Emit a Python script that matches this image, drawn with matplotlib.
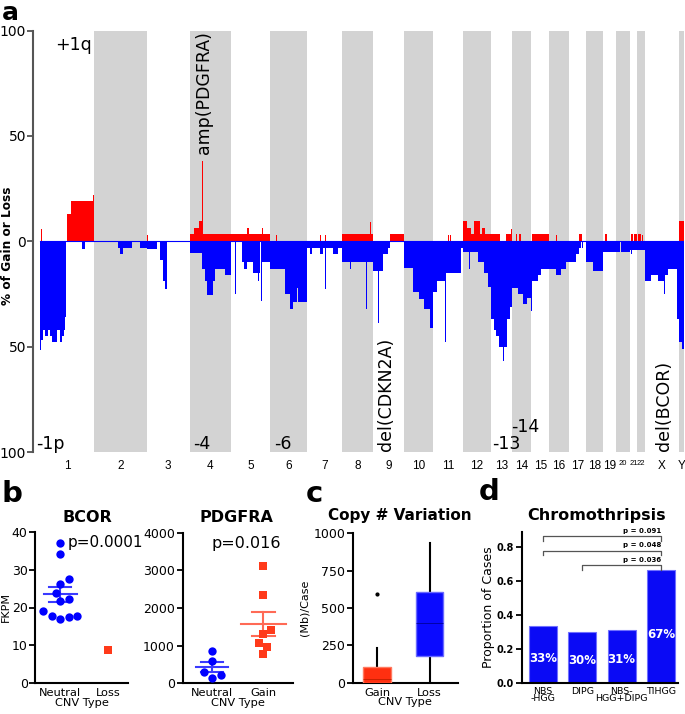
import numpy as np
import matplotlib
matplotlib.use('Agg')
import matplotlib.pyplot as plt

plt.rcParams['font.family'] = ['DejaVu Sans']

# ---------------- data: panel a ----------------
CHROMS = ['1', '2', '3', '4', '5', '6', '7', '8', '9', '10', '11', '12', '13', '14',
          '15', '16', '17', '18', '19', '20', '21', '22', 'X', 'Y']
CHROM_LEN_MB = [249, 243, 198, 191, 181, 171, 159, 146, 141, 135, 135, 133, 96, 88,
                82, 90, 81, 78, 59, 63, 35, 36, 155, 25]

# (chromosome, start Mb, end Mb, % of cases with gain)
GAIN_SEGMENTS = [
    ('1', 5, 8, 6), ('1', 60, 62, 5), ('1', 100, 102, 5), ('1', 125, 143, 12.7),
    ('1', 143, 245, 19), ('1', 245, 249, 22),
    ('2', 160, 162, 4),
    ('3', 0, 8, 3),
    ('4', 3, 21, 3.3), ('4', 21, 44, 6.3), ('4', 44, 57, 9.5), ('4', 57, 60, 38),
    ('4', 60, 191, 3.3),
    ('5', 0, 181, 3.3), ('5', 75, 85, 6.3), ('5', 145, 147, 6.3),
    ('6', 27, 29, 3),
    ('7', 60, 62, 3), ('7', 83, 85, 3), ('7', 114, 116, 3), ('7', 121, 123, 3), ('7', 145, 147, 3),
    ('8', 0, 146, 3.3), ('8', 130, 133, 9), ('8', 138, 141, 6),
    ('9', 16, 18, 3), ('9', 74, 141, 3.3),
    ('11', 69, 71, 3), ('11', 78, 80, 3),
    ('12', 0, 19, 9.5), ('12', 19, 37, 6.3), ('12', 37, 52, 3.3), ('12', 52, 79, 9.5),
    ('12', 61, 64, 16), ('12', 79, 91, 3.3), ('12', 91, 102, 6.3), ('12', 102, 133, 3.3),
    ('13', 0, 38, 3.3), ('13', 65, 96, 3.3), ('13', 92, 94, 6),
    ('14', 16, 24, 3.3), ('14', 30, 42, 3.3),
    ('15', 2, 82, 3.3),
    ('16', 34, 36, 3),
    ('17', 29, 31, 3), ('17', 48, 63, 3.3),
    ('19', 8, 17, 3.3),
    ('21', 6, 18, 3.3), ('21', 22, 32, 3.3),
    ('22', 2, 17, 3.3), ('22', 24, 26, 3),
    ('Y', 0, 25, 9.6),
]

# (chromosome, start Mb, end Mb, % of cases with loss)
LOSS_SEGMENTS = [
    ('1', 0, 5, 51.5), ('1', 5, 14, 47), ('1', 14, 23, 42), ('1', 23, 37, 45),
    ('1', 37, 46, 42), ('1', 46, 55, 45), ('1', 55, 78, 48), ('1', 78, 92, 42),
    ('1', 92, 102, 48), ('1', 102, 111, 45), ('1', 111, 115, 42), ('1', 115, 122, 36),
    ('1', 192, 206, 3.5),
    ('2', 0, 2, 3), ('2', 111, 176, 3.3), ('2', 120, 134, 6), ('2', 213, 243, 3.3),
    ('3', 2, 48, 3.5), ('3', 62, 76, 9), ('3', 76, 86, 19), ('3', 86, 92, 22.6),
    ('3', 92, 95, 9), ('3', 117, 119, 13), ('3', 163, 165, 6), ('3', 172, 174, 6),
    ('4', 3, 58, 5.6), ('4', 9, 11, 12.6), ('4', 58, 72, 13), ('4', 72, 81, 19),
    ('4', 81, 109, 25.5), ('4', 109, 118, 19), ('4', 118, 164, 13), ('4', 164, 191, 16),
    ('5', 18, 21, 25), ('5', 52, 103, 10), ('5', 60, 75, 13), ('5', 103, 135, 15),
    ('5', 125, 127, 19), ('5', 139, 141, 28.5), ('5', 145, 181, 10),
    ('6', 0, 69, 13), ('6', 69, 92, 25), ('6', 92, 106, 32), ('6', 106, 125, 29),
    ('6', 125, 128, 22), ('6', 128, 150, 29), ('6', 150, 153, 22), ('6', 153, 171, 29),
    ('7', 0, 14, 3), ('7', 14, 23, 6), ('7', 23, 60, 3), ('7', 60, 70, 6),
    ('7', 82, 84, 22.6), ('7', 70, 120, 3), ('7', 120, 143, 6), ('7', 143, 159, 3),
    ('8', 0, 100, 10), ('8', 38, 41, 13), ('8', 100, 112, 10), ('8', 112, 114, 32),
    ('8', 114, 146, 10),
    ('9', 0, 46, 14), ('9', 21, 24, 38.7), ('9', 46, 69, 6), ('9', 69, 78, 3),
    ('10', 2, 43, 12.7), ('10', 43, 67, 24), ('10', 67, 90, 27.5), ('10', 90, 122, 32),
    ('10', 122, 135, 41),
    ('11', 0, 19, 24), ('11', 19, 56, 19), ('11', 55, 57, 48), ('11', 57, 126, 15),
    ('11', 126, 135, 3),
    ('12', 0, 70, 5), ('12', 10, 12, 10), ('12', 30, 32, 13), ('12', 70, 97, 10),
    ('12', 97, 115, 15), ('12', 115, 130, 21.5), ('12', 130, 133, 28),
    ('13', 0, 13, 37), ('13', 13, 19, 42), ('13', 19, 33, 45), ('13', 33, 52, 50),
    ('13', 52, 54, 64), ('13', 54, 60, 57), ('13', 60, 70, 50), ('13', 70, 74, 57),
    ('13', 74, 85, 37), ('13', 85, 96, 31),
    ('14', 0, 25, 22), ('14', 25, 48, 25), ('14', 48, 70, 30), ('14', 70, 85, 27),
    ('14', 85, 88, 19),
    ('15', 0, 3, 33), ('15', 3, 29, 19), ('15', 29, 43, 16), ('15', 43, 82, 13),
    ('16', 0, 30, 13), ('16', 30, 54, 16), ('16', 54, 80, 13), ('16', 80, 90, 10),
    ('17', 0, 32, 10), ('17', 32, 47, 6), ('17', 47, 55, 3), ('17', 62, 66, 3),
    ('18', 0, 30, 10), ('18', 30, 78, 14),
    ('19', 0, 59, 5),
    ('20', 0, 20, 5), ('20', 25, 63, 5),
    ('21', 0, 35, 4), ('21', 8, 10, 6),
    ('22', 0, 36, 4),
    ('X', 0, 28, 19), ('X', 28, 58, 16), ('X', 58, 88, 19), ('X', 88, 92, 25),
    ('X', 92, 106, 16), ('X', 106, 150, 13), ('X', 150, 155, 37),
    ('Y', 0, 15, 48), ('Y', 15, 25, 51),
]

# (text, chromosome, position Mb, y %, rotation, ha, va)
ANNOTATIONS = [
    ('+1q', '1', 69, 97.5, 0, 'left', 'top'),
    ('-1p', '1', -18, -98.5, 0, 'left', 'baseline'),
    ('-4', '4', 17, -98.5, 0, 'left', 'baseline'),
    ('-6', '6', 19, -98.5, 0, 'left', 'baseline'),
    ('-13', '13', 2, -98.5, 0, 'left', 'baseline'),
    ('-14', '14', -7, -90.5, 0, 'left', 'baseline'),
    ('amp(PDGFRA)', '4', 65, 41.5, 90, 'center', 'bottom'),
    ('del(CDKN2A)', '9', 56, -99.5, 90, 'center', 'bottom'),
    ('del(BCOR)', 'X', 86, -99.5, 90, 'center', 'bottom'),
]

# ---------------- data: panel b ----------------
BCOR_NEUTRAL = [36.9, 34.1, 26.1, 27.4, 23.7, 21.8, 22.2, 19.0, 16.9, 17.8, 17.6, 17.8]
BCOR_LOSS = [8.8]
PDGFRA_NEUTRAL = [871, 596, 306, 219, 132]
PDGFRA_GAIN = [3123, 2345, 1416, 1309, 1062, 960, 778]

# ---------------- data: panel c ----------------
CNV_TYPES = ['Gain', 'Loss']
BOX_WHISLO = [0, 0]
BOX_Q1 = [0, 181]
BOX_MEDIAN = [25, 402]
BOX_Q3 = [103, 609]
BOX_WHISHI = [230, 937]
BOX_FLIERS = [[592], []]

# ---------------- data: panel d ----------------
CHROMO_GROUPS = ['NBS\n-HGG', 'DIPG', 'NBS-\nHGG+DIPG', 'TIHGG']
CHROMO_PROP = [0.332, 0.297, 0.311, 0.663]
CHROMO_LABELS = ['33%', '30%', '31%', '67%']
CHROMO_TESTS = [(0, 3, 'p = 0.091'), (0, 3, 'p = 0.048'), (1, 3, 'p = 0.036')]

RED = '#ff0000'
BLUE = '#0000ff'

W, H = 685, 714
fig = plt.figure(figsize=(W / 100, H / 100), dpi=100)


def rect(x0, y0, x1, y1):
    """pixel box (left, top, right, bottom) -> figure fraction"""
    return [x0 / W, 1 - y1 / H, (x1 - x0) / W, (y1 - y0) / H]


# ================= panel a =================
offsets = np.concatenate([[0], np.cumsum(CHROM_LEN_MB)[:-1]])
off = dict(zip(CHROMS, offsets))
total = float(np.sum(CHROM_LEN_MB))

axa = fig.add_axes(rect(33, 30.5, 684, 452))
for i, c in enumerate(CHROMS):
    if i % 2 == 1:
        axa.axvspan(off[c], off[c] + CHROM_LEN_MB[i], color='#d3d3d3', lw=0, zorder=0)

g_x = [off[c] + s for c, s, e, v in GAIN_SEGMENTS]
g_w = [e - s for c, s, e, v in GAIN_SEGMENTS]
g_h = [v for c, s, e, v in GAIN_SEGMENTS]
axa.bar(g_x, g_h, width=g_w, align='edge', color=RED, lw=0, zorder=2)
l_x = [off[c] + s for c, s, e, v in LOSS_SEGMENTS]
l_w = [e - s for c, s, e, v in LOSS_SEGMENTS]
l_h = [-v for c, s, e, v in LOSS_SEGMENTS]
axa.bar(l_x, l_h, width=l_w, align='edge', color=BLUE, lw=0, zorder=2)
axa.plot([0, total], [0, 0], color=BLUE, lw=0.8, zorder=3)

axa.set_xlim(-32, total)
axa.set_ylim(-100, 100)
axa.set_yticks([100, 50, 0, -50, -100])
axa.set_yticklabels(['100', '50', '0', '50', '100'], fontsize=10)
axa.tick_params(axis='y', length=4, width=1.2, color='#444444', pad=1)
centers = [off[c] + l / 2 for c, l in zip(CHROMS, CHROM_LEN_MB)]
axa.set_xticks(centers)
axa.set_xticklabels(CHROMS, fontsize=8.5, family='Liberation Sans')
for lab, c in zip(axa.get_xticklabels(), CHROMS):
    if c in ('20', '21', '22'):
        lab.set_fontsize(5.5)
axa.tick_params(axis='x', length=0, pad=6)
for s in ['top', 'right', 'bottom']:
    axa.spines[s].set_visible(False)
axa.spines['left'].set_color('#555555')
axa.spines['left'].set_linewidth(1.5)
axa.set_ylabel('% of Gain or Loss', fontsize=8.7, fontweight='bold')
axa.yaxis.set_label_coords(-0.029, 0.49)

for txt, c, pos, y, rot, ha, va in ANNOTATIONS:
    axa.text(off[c] + pos, y, txt, fontsize=12.5, rotation=rot, ha=ha, va=va,
             zorder=5)


# ================= panel b =================
def swarm(ax, values, xc, diam_px):
    tr = ax.transData
    ys = [tr.transform((xc, v))[1] for v in values]
    order = np.argsort(ys)
    placed = []
    offs = np.zeros(len(values))
    cands = [0.0]
    for k in range(1, 30):
        cands += [k * diam_px * 0.5, -k * diam_px * 0.5]
    for i in order:
        y = ys[i]
        for cnd in cands:
            if all((cnd - px) ** 2 + (y - py) ** 2 >= (0.95 * diam_px) ** 2 for px, py in placed):
                break
        placed.append((cnd, y))
        offs[i] = cnd
    x0 = tr.transform((xc, 0))[0]
    inv = tr.inverted()
    return np.array([inv.transform((x0 + o, 0))[0] for o in offs])


def mean_sem(ax, values, xc, color, half_mean_px, half_cap_px):
    tr = ax.transData
    x0 = tr.transform((xc, 0))[0]
    inv = tr.inverted()
    xm0 = inv.transform((x0 - half_mean_px, 0))[0]
    xm1 = inv.transform((x0 + half_mean_px, 0))[0]
    xc0 = inv.transform((x0 - half_cap_px, 0))[0]
    xc1 = inv.transform((x0 + half_cap_px, 0))[0]
    v = np.asarray(values, dtype=float)
    m = v.mean()
    sem = v.std(ddof=1) / np.sqrt(len(v))
    ax.plot([xm0, xm1], [m, m], color=color, lw=1.5, zorder=4)
    ax.plot([xc0, xc1], [m + sem] * 2, color=color, lw=1.5, zorder=4)
    ax.plot([xc0, xc1], [m - sem] * 2, color=color, lw=1.5, zorder=4)
    ax.plot([xc, xc], [m - sem, m + sem], color=color, lw=1.5, zorder=4)


def style_small(ax):
    for s in ['top', 'right']:
        ax.spines[s].set_visible(False)
    for s in ['left', 'bottom']:
        ax.spines[s].set_linewidth(1.5)
        ax.spines[s].set_color('black')
    ax.tick_params(axis='y', length=4, width=1.3, labelsize=9, pad=1.5)
    ax.tick_params(axis='x', length=0, labelsize=8.2, pad=3.5)


SQ_RED = '#ff3a1a'
LINE_RED = '#ff6a55'
LINE_BLUE = '#3a3aff'
XLAB_KW = dict(fontsize=8.2, labelpad=-0.3)

# BCOR
axb1 = fig.add_axes(rect(35.3, 531.7, 128, 683.3))
axb1.set_xlim(-0.524, 1.419)
axb1.set_ylim(0, 40)
axb1.set_yticks([0, 10, 20, 30, 40])
axb1.set_xticks([0, 1])
axb1.set_xticklabels(['Neutral', 'Loss'])
style_small(axb1)
axb1.set_ylabel('FKPM', fontsize=8, labelpad=1)
axb1.set_xlabel('CNV Type', **XLAB_KW)
xs = swarm(axb1, BCOR_NEUTRAL, 0, 8.5)
axb1.scatter(xs, BCOR_NEUTRAL, s=36, color=BLUE, marker='o', lw=0, zorder=5, clip_on=False)
xs = swarm(axb1, BCOR_LOSS, 1, 8)
axb1.scatter(xs, BCOR_LOSS, s=30, color=SQ_RED, marker='s', lw=0, zorder=5, clip_on=False)
mean_sem(axb1, BCOR_NEUTRAL, 0, LINE_BLUE, 16.5, 11)
axb1.text(0.16, 37.2, 'p=0.0001', fontsize=11, ha='left', va='center', clip_on=False)
fig.text(87 / W, 1 - 522 / H, 'BCOR', fontsize=11.5, fontweight='bold', ha='center', va='baseline')

# PDGFRA
axb2 = fig.add_axes(rect(182.5, 532.7, 293, 683.3))
axb2.set_xlim(-0.584, 1.582)
axb2.set_ylim(0, 4000)
axb2.set_yticks([0, 1000, 2000, 3000, 4000])
axb2.set_xticks([0, 1])
axb2.set_xticklabels(['Neutral', 'Gain'])
style_small(axb2)
axb2.set_xlabel('CNV Type', **XLAB_KW)
xs = swarm(axb2, PDGFRA_NEUTRAL, 0, 8.5)
axb2.scatter(xs, PDGFRA_NEUTRAL, s=36, color=BLUE, marker='o', lw=0, zorder=5, clip_on=False)
xs = swarm(axb2, PDGFRA_GAIN, 1, 8)
axb2.scatter(xs, PDGFRA_GAIN, s=30, color=SQ_RED, marker='s', lw=0, zorder=5, clip_on=False)
mean_sem(axb2, PDGFRA_NEUTRAL, 0, LINE_BLUE, 16, 11)
mean_sem(axb2, PDGFRA_GAIN, 1, LINE_RED, 22.5, 11.5)
axb2.text(1.35, 3720, 'p=0.016', fontsize=11.5, ha='right', va='center', clip_on=False)
fig.text(236 / W, 1 - 522 / H, 'PDGFRA', fontsize=11.5, fontweight='bold', ha='center', va='baseline')

# ================= panel c =================
axc = fig.add_axes(rect(352.7, 533.3, 457.7, 682.7))
stats = []
for i in range(len(CNV_TYPES)):
    stats.append(dict(label=CNV_TYPES[i], whislo=BOX_WHISLO[i], q1=BOX_Q1[i],
                      med=BOX_MEDIAN[i], q3=BOX_Q3[i], whishi=BOX_WHISHI[i],
                      fliers=BOX_FLIERS[i]))
bp = axc.bxp(stats, positions=[0, 1], widths=0.52, patch_artist=True, showcaps=False,
             flierprops=dict(marker='o', markersize=2, markerfacecolor='black',
                             markeredgecolor='black'),
             whiskerprops=dict(color='black', lw=1.5),
             medianprops=dict(lw=0.6))
box_fc = ['#ff3010', '#0a0aff']
box_ec = ['#ff7a60', '#6a6aff']
med_c = ['#c02000', '#00009a']
for i, b in enumerate(bp['boxes']):
    b.set_facecolor(box_fc[i])
    b.set_edgecolor(box_ec[i])
    b.set_linewidth(1)
    b.set_zorder(3)
for i, m in enumerate(bp['medians']):
    m.set_color(med_c[i])
    m.set_zorder(4)
axc.set_xlim(-0.463, 1.537)
axc.set_ylim(0, 1000)
axc.set_yticks([0, 250, 500, 750, 1000])
style_small(axc)
axc.set_xticks([0, 1])
axc.set_xticklabels(CNV_TYPES)
axc.set_ylabel('(Mb)/Case', fontsize=8, labelpad=3)
axc.set_xlabel('CNV Type', **XLAB_KW)
fig.text(400 / W, 1 - 520 / H, 'Copy # Variation', fontsize=11, fontweight='bold',
         ha='center', va='baseline')

# ================= panel d =================
axd = fig.add_axes(rect(521.7, 532.3, 678.3, 682.7))
xpos = np.arange(len(CHROMO_GROUPS))
axd.bar(xpos, CHROMO_PROP, width=0.71, color='#0a0af5', edgecolor='#7070ff', lw=0.8, zorder=2)
for x, v, t in zip(xpos, CHROMO_PROP, CHROMO_LABELS):
    axd.text(x, v * 0.43, t, color='white', fontsize=8.5, fontweight='bold',
             ha='center', va='center', zorder=3)
axd.set_xlim(-0.542, 3.443)
axd.set_ylim(0, 0.884)
axd.set_yticks([0.0, 0.2, 0.4, 0.6, 0.8])
axd.set_yticklabels(['0.0', '0.2', '0.4', '0.6', '0.8'], fontweight='bold')
style_small(axd)
axd.tick_params(axis='y', labelsize=7)
axd.set_xticks(xpos)
axd.set_xticklabels(CHROMO_GROUPS, fontsize=6.8, linespacing=0.8)
axd.tick_params(axis='x', pad=3)
axd.set_ylabel('Proportion of Cases', fontsize=9, labelpad=1)
fig.text(597 / W, 1 - 520 / H, 'Chromothripsis', fontsize=11.5, fontweight='bold',
         ha='center', va='baseline')

br_levels = [(0.863, 0.831, 0.89), (0.776, 0.753, 0.81), (0.692, 0.665, 0.72)]
for (a, b, txt), (yl, yd, yt) in zip(CHROMO_TESTS, br_levels):
    axd.plot([a, a, b, b], [yd, yl, yl, CHROMO_PROP[b] if a == 1 else yd],
             color='#555555', lw=0.9, clip_on=False, zorder=4)
    axd.text(b, yt, txt, fontsize=5, fontweight='bold', ha='right', va='center',
             clip_on=False)

# ================= panel letters =================
fig.text(2 / W, 1 - 0.5 / H, 'a', fontsize=18, fontweight='bold', ha='left', va='top')
for letter, x, y in [('b', 2, 502), ('c', 306, 502), ('d', 479, 500)]:
    fig.text(x / W, 1 - y / H, letter, fontsize=21, fontweight='bold', ha='left', va='baseline')

fig.savefig('out.png', dpi=100)
